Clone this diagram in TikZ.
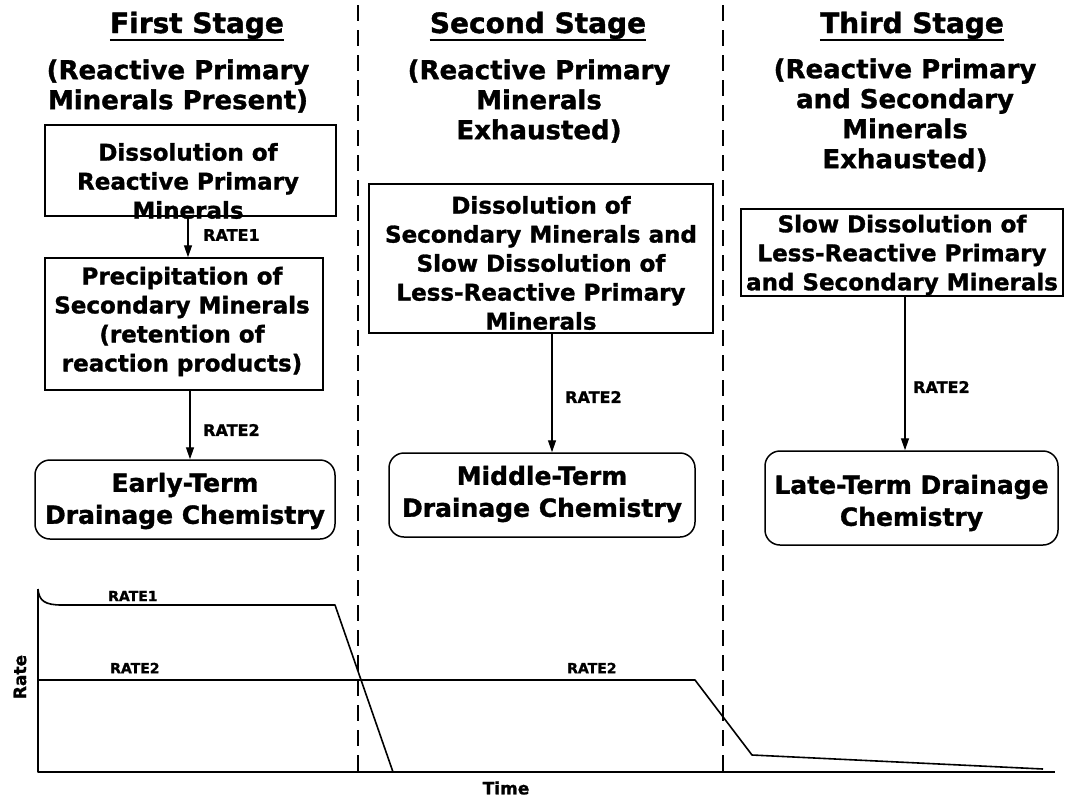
\documentclass[tikz,border=0pt]{standalone}
\usepackage{fontspec}
\setmainfont{DejaVu Sans}[BoldFeatures={FakeBold=1.3}]
\usetikzlibrary{arrows.meta}
\begin{document}
\begin{tikzpicture}[x=1pt,y=-1pt,
  every node/.style={inner sep=0pt, align=center},
  titletxt/.style={font=\bfseries\fontsize{28}{30}\selectfont},
  subtxt/.style={font=\bfseries\fontsize{26}{30}\selectfont},
  boxtxt/.style={font=\bfseries\fontsize{23}{29}\selectfont},
  termtxt/.style={font=\bfseries\fontsize{25}{32}\selectfont},
  ratetxt/.style={font=\bfseries\fontsize{16}{18}\selectfont},
  graphtxt/.style={font=\bfseries\fontsize{14}{16}\selectfont},
  axistxt/.style={font=\bfseries\fontsize{17}{19}\selectfont},
  procbox/.style={draw, line width=1.5pt},
  termbox/.style={draw, line width=1.5pt, rounded corners=15pt},
  flow/.style={line width=1.3pt, -{Triangle[length=12pt,width=8pt]}},
  divider/.style={line width=1.8pt, dash pattern=on 16pt off 9pt},
  curve/.style={line width=1.6pt, line join=round},
  uline/.style={line width=2.2pt}
]
\useasboundingbox (0,0) rectangle (1068,798);
\fill[white] (0,0) rectangle (1068,798);

% dividers
\coordinate (d1t) at (358,5); \coordinate (d1b) at (358,772);
\coordinate (d2t) at (723,5); \coordinate (d2b) at (723,772);
\draw[divider] (d1t) -- (d1b);
\draw[divider] (d2t) -- (d2b);

% titles
\node[titletxt, anchor=base] (t1) at (197,33) {First Stage};
\node[titletxt, anchor=base] (t2) at (538,33) {Second Stage};
\node[titletxt, anchor=base] (t3) at (912,33) {Third Stage};
\foreach \t in {t1,t2,t3}{
  \draw[uline] ([yshift=-7pt]\t.base west) -- ([yshift=-7pt]\t.base east);
}

% subtitles
\node[subtxt] (s1) at (178,86) {(Reactive Primary\\Minerals Present)};
\node[subtxt] (s2) at (539,101) {(Reactive Primary\\Minerals\\Exhausted)};
\node[subtxt] (s3) at (905,115) {(Reactive Primary\\and Secondary\\Minerals\\Exhausted)};

% column 1
\node[procbox, minimum width=291pt, minimum height=91pt] (b1) at (190.5,170.5) {};
\node[boxtxt] (b1t) at (188,181) {Dissolution of\\Reactive Primary\\Minerals};
\node[procbox, minimum width=278pt, minimum height=132pt] (b2) at (184,324) {};
\node[boxtxt] (b2t) at (182,321.5) {Precipitation of\\Secondary Minerals\\(retention of\\reaction products)};
\node[termbox, minimum width=300pt, minimum height=79pt] (b3) at (185,499.5) {};
\node[termtxt] (b3t) at (185,501) {Early-Term\\Drainage Chemistry};
\coordinate (c1) at (188,0);
\coordinate (c2) at (190,0);
\draw[flow] (b1.south -| c1) -- (b2.north -| c1);
\draw[flow] (b2.south -| c2) -- (b3.north -| c2);
\node[ratetxt, anchor=west] (r11) at (203,235) {RATE1};
\node[ratetxt, anchor=west] (r12) at (203,430) {RATE2};

% column 2
\node[procbox, minimum width=344pt, minimum height=149pt] (m1) at (541,258.5) {};
\node[boxtxt] (m1t) at (541,263) {Dissolution of\\Secondary Minerals and\\Slow Dissolution of\\Less-Reactive Primary\\Minerals};
\node[termbox, minimum width=306pt, minimum height=84pt] (m2) at (542,495) {};
\node[termtxt] (m2t) at (542,494) {Middle-Term\\Drainage Chemistry};
\coordinate (c3) at (552,0);
\draw[flow] (m1.south -| c3) -- (m2.north -| c3);
\node[ratetxt, anchor=west] (r22) at (565,397) {RATE2};

% column 3
\node[procbox, minimum width=322pt, minimum height=87pt] (l1) at (902,252.5) {};
\node[boxtxt] (l1t) at (902,255) {Slow Dissolution of\\Less-Reactive Primary\\and Secondary Minerals};
\node[termbox, minimum width=293pt, minimum height=94pt] (l2) at (911.5,498) {};
\node[termtxt] (l2t) at (911.5,503) {Late-Term Drainage\\Chemistry};
\coordinate (c4) at (905,0);
\draw[flow] (l1.south -| c4) -- (l2.north -| c4);
\node[ratetxt, anchor=west] (r32) at (913,387) {RATE2};

% graph
\coordinate (yt) at (38,589);
\coordinate (o) at (38,772);
\coordinate (xe) at (1055,772);
\draw[curve] (yt) -- (o) -- (xe);
\draw[curve] (yt) .. controls (39,601) and (45,605) .. (62,605) -- (335,605) -- (393,772);
\draw[curve] (38,680) -- (695,680) -- (752,755) -- (1043,769);
\node[graphtxt, anchor=west] (g1) at (108,596) {RATE1};
\node[graphtxt, anchor=west] (g2) at (110,668) {RATE2};
\node[graphtxt, anchor=west] (g3) at (567,668) {RATE2};
\node[axistxt, rotate=90] (ya) at (20,677) {Rate};
\node[axistxt] (xa) at (506,788) {Time};
\end{tikzpicture}
\end{document}
